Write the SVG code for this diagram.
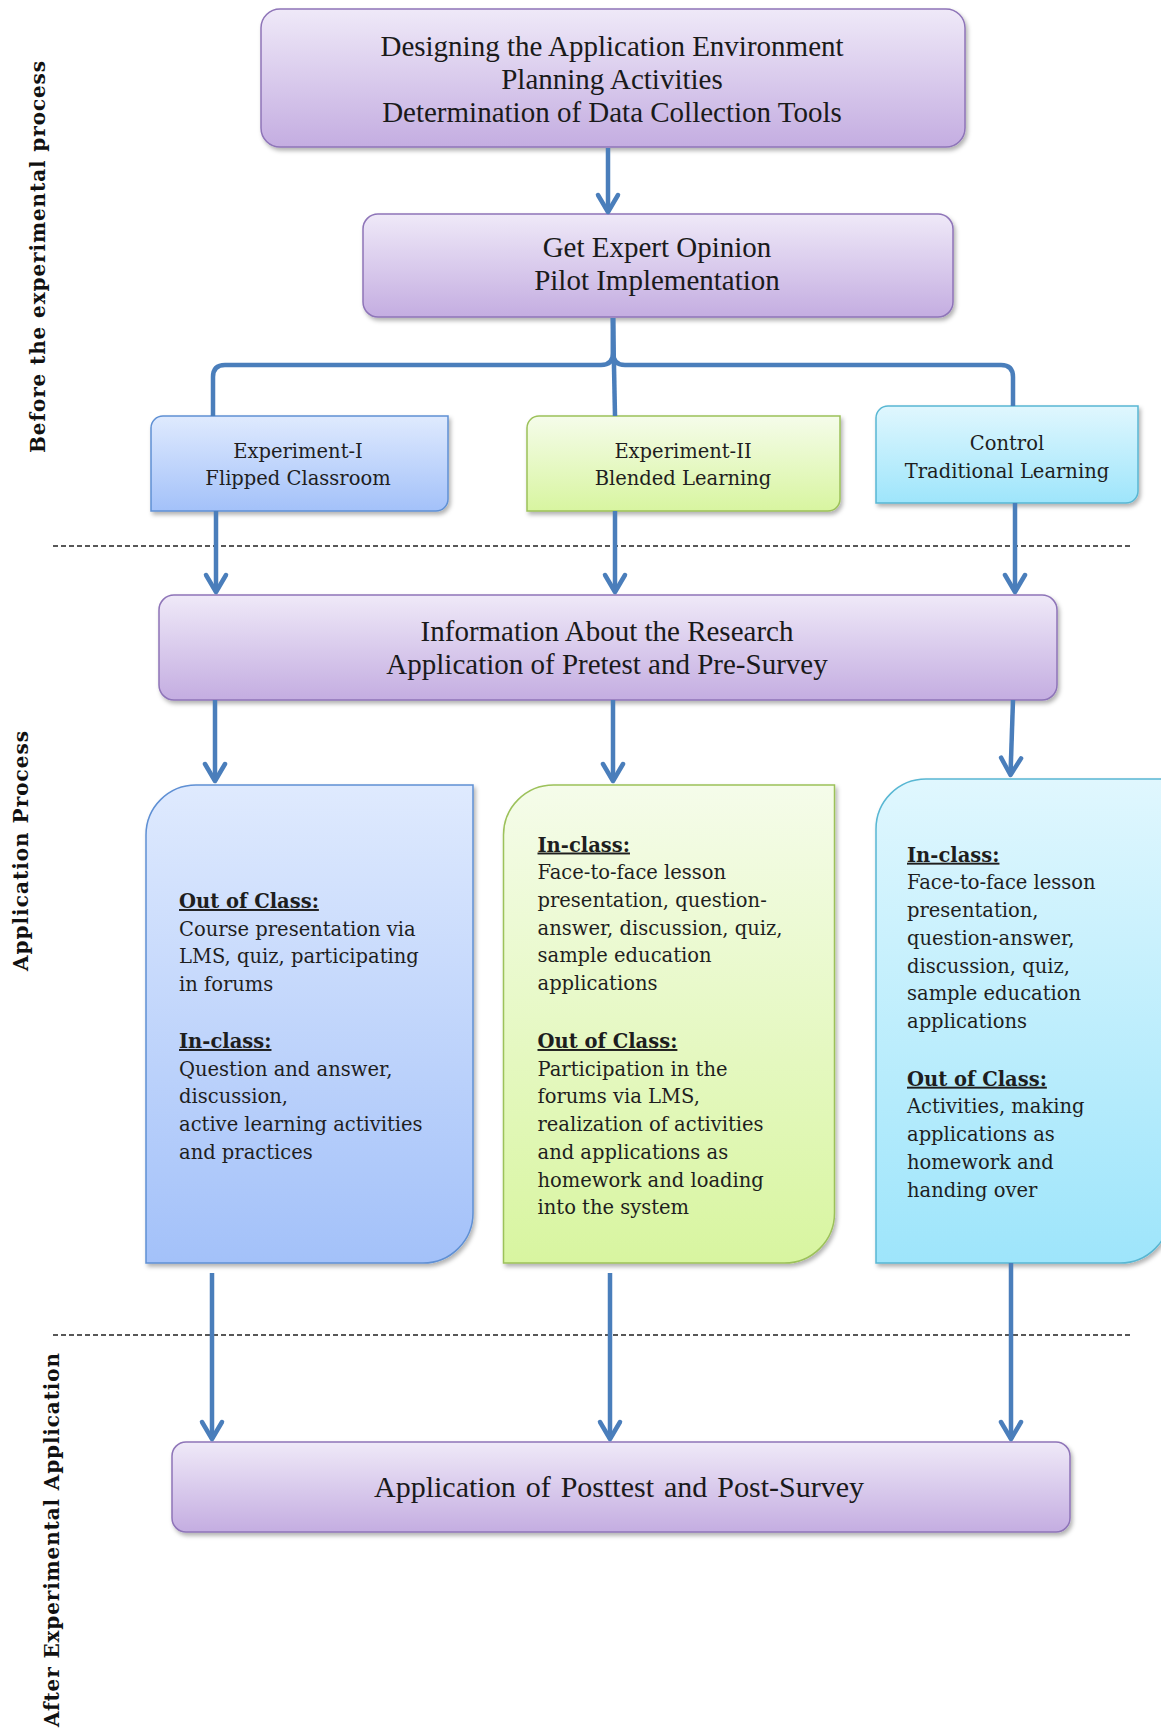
<svg xmlns="http://www.w3.org/2000/svg" width="1161" height="1731" viewBox="0 0 1161 1731">
<style>
.bg{fill:#ffffff}
.purple{fill:url(#gPurple);stroke:#8E74B8;stroke-width:1.5}
.blue{fill:url(#gBlue);stroke:#5F90D4;stroke-width:1.5}
.green{fill:url(#gGreen);stroke:#9CC15A;stroke-width:1.5}
.cyan{fill:url(#gCyan);stroke:#58B7D3;stroke-width:1.5}
.sh{filter:url(#shadow)}
.pt{font-family:"Liberation Serif","Times New Roman",serif;font-size:29px;fill:#1a1a1a;text-anchor:middle}
.st{font-family:"DejaVu Serif","Liberation Serif",serif;font-size:19.5px;fill:#1e1e1e;text-anchor:middle}
.ct{font-family:"DejaVu Serif","Liberation Serif",serif;font-size:19.5px;fill:#1e1e1e}
.hd{font-weight:bold;text-decoration:underline}
.vl{font-family:"DejaVu Serif","Liberation Serif",serif;font-size:20px;font-weight:bold;fill:#111;text-anchor:middle}
.conn{fill:none;stroke:#4A7EBB;stroke-width:4.5;stroke-linecap:butt;stroke-linejoin:round}
.arr{marker-end:url(#arrow)}
.dash{stroke:#222;stroke-width:1.4;stroke-dasharray:5 3;fill:none}
</style>
<defs>
<linearGradient id="gPurple" x1="0" y1="0" x2="0" y2="1"><stop offset="0" stop-color="#EFE9F8"/><stop offset="1" stop-color="#C4ADE1"/></linearGradient>
<linearGradient id="gBlue" x1="0" y1="0" x2="0" y2="1"><stop offset="0" stop-color="#DFEAFE"/><stop offset="1" stop-color="#A3C1F9"/></linearGradient>
<linearGradient id="gGreen" x1="0" y1="0" x2="0" y2="1"><stop offset="0" stop-color="#F5FCEA"/><stop offset="1" stop-color="#D8F5A0"/></linearGradient>
<linearGradient id="gCyan" x1="0" y1="0" x2="0" y2="1"><stop offset="0" stop-color="#E0F7FE"/><stop offset="1" stop-color="#9EE5FB"/></linearGradient>
<filter id="shadow" x="-5%" y="-10%" width="112%" height="130%">
<feDropShadow dx="2" dy="3" stdDeviation="2.2" flood-color="#000" flood-opacity="0.3"/>
</filter>
<marker id="arrow" markerUnits="userSpaceOnUse" markerWidth="30" markerHeight="30" refX="0" refY="0" orient="auto" overflow="visible" viewBox="-20 -15 30 30">
<path d="M-17,-10 L0,0 L-17,10" fill="none" stroke="#4A7EBB" stroke-width="4.5" stroke-linejoin="round" stroke-linecap="round"/>
</marker>
</defs>
<rect class="bg" x="0" y="0" width="1161" height="1731"/>

<g id="labels">
<text class="vl" transform="translate(45,257) rotate(-90)" textLength="392" lengthAdjust="spacing">Before the experimental process</text>
<text class="vl" transform="translate(28,851) rotate(-90)" textLength="240" lengthAdjust="spacing">Application Process</text>
<text class="vl" transform="translate(59,1540) rotate(-90)" textLength="374" lengthAdjust="spacing">After Experimental Application</text>
</g>

<g id="separators">
<line class="dash" x1="53" y1="546" x2="1133" y2="546"/>
<line class="dash" x1="53" y1="1335" x2="1133" y2="1335"/>
</g>

<g id="node-design">
<rect class="purple sh" x="261" y="9" width="704" height="138" rx="19"/>
<text class="pt" x="612" y="55.5">Designing the Application Environment</text>
<text class="pt" x="612" y="88.5">Planning Activities</text>
<text class="pt" x="612" y="121.5">Determination of Data Collection Tools</text>
</g>

<g id="node-expert">
<rect class="purple sh" x="363" y="214" width="590" height="103" rx="15"/>
<text class="pt" x="657" y="257">Get Expert Opinion</text>
<text class="pt" x="657" y="290">Pilot Implementation</text>
</g>

<g id="node-exp1">
<path class="blue sh" d="M163,416 H448 V499 A12,12 0 0 1 436,511 H151 V428 A12,12 0 0 1 163,416 Z"/>
<text class="st" x="298" y="458">Experiment-I</text>
<text class="st" x="298" y="485">Flipped Classroom</text>
</g>

<g id="node-exp2">
<path class="green sh" d="M539,416 H840 V499 A12,12 0 0 1 828,511 H527 V428 A12,12 0 0 1 539,416 Z"/>
<text class="st" x="683" y="458">Experiment-II</text>
<text class="st" x="683" y="485">Blended Learning</text>
</g>

<g id="node-control">
<path class="cyan sh" d="M888,406 H1138 V491 A12,12 0 0 1 1126,503 H876 V418 A12,12 0 0 1 888,406 Z"/>
<text class="st" x="1007" y="450">Control</text>
<text class="st" x="1007" y="477.5">Traditional Learning</text>
</g>

<g id="node-info">
<rect class="purple sh" x="159" y="595" width="898" height="105" rx="15"/>
<text class="pt" x="607" y="641">Information About the Research</text>
<text class="pt" x="607" y="673.5">Application of Pretest and Pre-Survey</text>
</g>

<g id="node-flipped-detail">
<path class="blue sh" d="M196,785 H473 V1213 A50,50 0 0 1 423,1263 H146 V835 A50,50 0 0 1 196,785 Z"/>
<text class="ct" x="179" y="908"><tspan class="hd">Out of Class:</tspan></text>
<text class="ct" x="179" y="935.7">Course presentation via</text>
<text class="ct" x="179" y="963.4">LMS, quiz, participating</text>
<text class="ct" x="179" y="991.1">in forums</text>
<text class="ct" x="179" y="1048"><tspan class="hd">In-class:</tspan></text>
<text class="ct" x="179" y="1075.7">Question and answer,</text>
<text class="ct" x="179" y="1103.4">discussion,</text>
<text class="ct" x="179" y="1131.1">active learning activities</text>
<text class="ct" x="179" y="1158.8">and practices</text>
</g>

<g id="node-blended-detail">
<path class="green sh" d="M553.5,785 H834.5 V1213 A50,50 0 0 1 784.5,1263 H503.5 V835 A50,50 0 0 1 553.5,785 Z"/>
<text class="ct" x="537.5" y="851.5"><tspan class="hd">In-class:</tspan></text>
<text class="ct" x="537.5" y="879.2">Face-to-face lesson</text>
<text class="ct" x="537.5" y="906.9">presentation, question-</text>
<text class="ct" x="537.5" y="934.6">answer, discussion, quiz,</text>
<text class="ct" x="537.5" y="962.3">sample education</text>
<text class="ct" x="537.5" y="990">applications</text>
<text class="ct" x="537.5" y="1048"><tspan class="hd">Out of Class:</tspan></text>
<text class="ct" x="537.5" y="1075.7">Participation in the</text>
<text class="ct" x="537.5" y="1103.4">forums via LMS,</text>
<text class="ct" x="537.5" y="1131.1">realization of activities</text>
<text class="ct" x="537.5" y="1158.8">and applications as</text>
<text class="ct" x="537.5" y="1186.5">homework and loading</text>
<text class="ct" x="537.5" y="1214.2">into the system</text>
</g>

<g id="node-traditional-detail">
<path class="cyan sh" d="M926,779 H1170 V1213 A50,50 0 0 1 1120,1263 H876 V829 A50,50 0 0 1 926,779 Z"/>
<text class="ct" x="907" y="861.7"><tspan class="hd">In-class:</tspan></text>
<text class="ct" x="907" y="889.4">Face-to-face lesson</text>
<text class="ct" x="907" y="917.1">presentation,</text>
<text class="ct" x="907" y="944.8">question-answer,</text>
<text class="ct" x="907" y="972.5">discussion, quiz,</text>
<text class="ct" x="907" y="1000.2">sample education</text>
<text class="ct" x="907" y="1027.9">applications</text>
<text class="ct" x="907" y="1085.7"><tspan class="hd">Out of Class:</tspan></text>
<text class="ct" x="907" y="1113.4">Activities, making</text>
<text class="ct" x="907" y="1141.1">applications as</text>
<text class="ct" x="907" y="1168.8">homework and</text>
<text class="ct" x="907" y="1196.5">handing over</text>
</g>

<g id="node-post">
<rect class="purple sh" x="172" y="1442" width="898" height="90" rx="14"/>
<text class="pt" x="619" y="1497" style="font-size:30px;word-spacing:2.5px">Application of Posttest and Post-Survey</text>
</g>

<g id="connectors">
<path class="conn arr" d="M608,148 V212"/>
<path class="conn" d="M613,318 V353 Q613,365 601,365 H225 Q213,365 213,377 V416"/>
<path class="conn" d="M613,318 V353 Q613,365 625,365 H1001 Q1013,365 1013,377 V406"/>
<path class="conn" d="M613,318 L615,416"/>
<path class="conn arr" d="M216,511 V592"/>
<path class="conn arr" d="M615,511 V592"/>
<path class="conn arr" d="M1015,503 V592"/>
<path class="conn arr" d="M215,700 V781"/>
<path class="conn arr" d="M613,700 V781"/>
<path class="conn arr" d="M1013,700 L1010.5,775"/>
<path class="conn arr" d="M212,1273 V1439"/>
<path class="conn arr" d="M610,1273 V1439"/>
<path class="conn arr" d="M1011,1263 V1439"/>
</g>
</svg>
